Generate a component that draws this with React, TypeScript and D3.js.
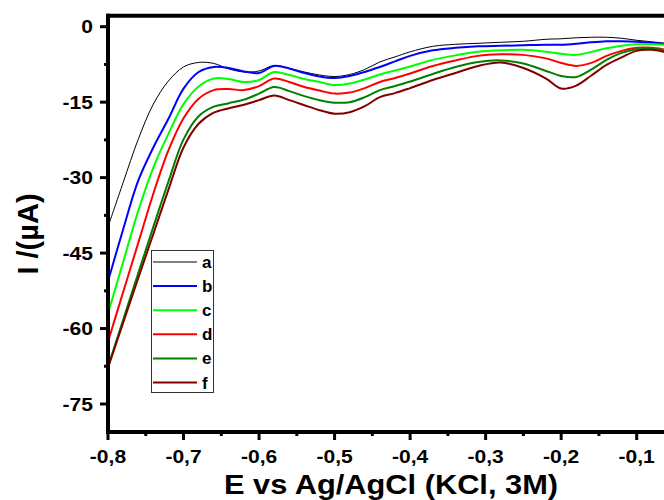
import { useEffect, useRef } from "react";
import * as d3 from "d3";

// potential grid (V) shared by all curves
const potentials = [
  -0.8, -0.78, -0.76, -0.74, -0.72, -0.7, -0.68, -0.66, -0.64, -0.62, -0.6, -0.58,
  -0.56, -0.54, -0.52, -0.5, -0.48, -0.46, -0.44, -0.42, -0.4, -0.37, -0.34, -0.31,
  -0.28, -0.25, -0.22, -0.2, -0.18, -0.16, -0.14, -0.12, -0.1, -0.08, -0.06, -0.05,
];

const curveA = [
  -39.8, -31.0, -22.4, -15.4, -10.8, -8.0, -7.1, -7.3, -8.4, -9.0, -8.8, -7.7,
  -8.3, -9.0, -9.6, -9.9, -9.5, -8.5, -7.0, -6.0, -5.0, -3.9, -3.5, -3.3,
  -3.1, -2.9, -2.5, -2.4, -2.2, -2.1, -2.1, -2.3, -2.7, -3.0, -3.3, -3.4,
];
const curveB = [
  -50.6, -40.3, -30.6, -24.0, -18.3, -12.3, -9.0, -8.0, -8.2, -8.9, -9.2, -7.8,
  -8.3, -9.2, -9.9, -10.2, -9.8, -9.0, -8.0, -6.9, -5.8, -4.7, -4.2, -3.9,
  -3.8, -3.7, -3.6, -3.6, -3.4, -3.1, -2.9, -2.9, -3.0, -3.2, -3.5, -3.6,
];
const curveC = [
  -57.0, -46.8, -36.6, -28.0, -21.3, -15.4, -11.9, -10.3, -10.4, -11.0, -10.6, -9.0,
  -9.6, -10.4, -11.0, -11.6, -11.3, -10.5, -9.5, -8.7, -7.9, -6.6, -5.7, -5.0,
  -4.7, -4.6, -5.0, -5.4, -5.6, -5.0, -4.3, -3.8, -3.5, -3.5, -3.6, -3.7,
];
const curveD = [
  -62.6, -52.8, -43.0, -33.2, -24.6, -18.2, -14.3, -12.6, -12.4, -12.6, -11.8, -10.3,
  -11.0, -12.0, -12.7, -13.3, -13.1, -12.2, -11.0, -10.2, -9.3, -7.8, -6.7, -5.8,
  -5.5, -5.6, -6.3, -7.2, -7.8, -7.2, -5.8, -4.8, -4.2, -4.2, -4.6, -4.8,
];
const curveE = [
  -67.6, -58.3, -49.0, -39.8, -30.8, -22.4, -17.8, -15.9, -15.2, -14.5, -13.3, -12.0,
  -12.8, -13.8, -14.6, -15.1, -15.0, -14.0, -12.6, -11.8, -10.9, -9.4, -8.0, -7.0,
  -6.7, -7.3, -8.8, -9.8, -10.0, -8.5, -6.6, -5.2, -4.5, -4.4, -4.7, -4.8,
];
const curveF = [
  -67.8, -58.9, -50.0, -41.2, -32.4, -24.0, -19.3, -17.1, -16.2, -15.5, -14.6, -13.7,
  -14.6, -15.6, -16.6, -17.3, -17.0, -15.8, -14.0, -13.2, -12.2, -10.6, -9.2, -7.8,
  -7.1, -8.2, -10.3, -12.3, -11.7, -9.7, -7.6, -6.1, -4.8, -4.6, -5.1, -5.2,
];

const labels = ["a", "b", "c", "d", "e", "f"];
const colors = ["#000000", "#0000ff", "#00ff00", "#ff0000", "#008000", "#800000"];
const yTicks = [0, -15, -30, -45, -60, -75];
const xTicks = [-0.8, -0.7, -0.6, -0.5, -0.4, -0.3, -0.2, -0.1];

const FONT = "'Liberation Sans', Arial, sans-serif";

export default function App() {
  const ref = useRef<SVGSVGElement>(null);

  useEffect(() => {
    const svg = d3.select(ref.current);
    svg.selectAll("*").remove();

    const left = 108, top = 15.7, bottom = 432, right = 664;
    const x = d3.scaleLinear().domain([-0.8, -0.1]).range([108, 636.7]);
    const y = d3.scaleLinear().domain([0, -75]).range([26.7, 404]);

    const series = [curveA, curveB, curveC, curveD, curveE, curveF];

    svg.append("defs").append("clipPath").attr("id", "plot")
      .append("rect")
      .attr("x", left).attr("y", top)
      .attr("width", right - left).attr("height", bottom - top);

    const line = d3.line<number>()
      .x((_, i) => x(potentials[i]))
      .y(d => y(d))
      .curve(d3.curveCatmullRom.alpha(0.5));

    const plot = svg.append("g").attr("clip-path", "url(#plot)");
    series.forEach((vals, i) => {
      plot.append("path")
        .attr("d", line(vals))
        .attr("fill", "none")
        .attr("stroke", colors[i])
        .attr("stroke-width", i === 0 ? 1 : 2)
        .attr("stroke-linejoin", "round");
    });

    // axes frame
    const axis = svg.append("g").attr("stroke", "#000").attr("stroke-width", 4);
    axis.append("line").attr("x1", left).attr("x2", left).attr("y1", top - 2).attr("y2", bottom + 2);
    axis.append("line").attr("x1", left - 2).attr("x2", right).attr("y1", bottom).attr("y2", bottom);
    axis.append("line").attr("x1", left - 2).attr("x2", right).attr("y1", top).attr("y2", top);

    // y ticks
    const yMinor = d3.range(0, -81, -7.5);
    svg.append("g").selectAll("line").data(yMinor).join("line")
      .attr("x1", d => (d % 15 === 0 ? left - 8 : left - 4))
      .attr("x2", left)
      .attr("y1", d => y(d)).attr("y2", d => y(d))
      .attr("stroke", "#000").attr("stroke-width", 3);

    svg.append("g").selectAll("g").data(yTicks).join("g")
      .attr("transform", d => `translate(93,${y(d) + 6.5}) scale(1.17,1)`)
      .append("text")
      .attr("text-anchor", "end")
      .attr("font-family", FONT).attr("font-weight", "bold").attr("font-size", 18)
      .text(d => String(d));

    // x ticks
    const xMinor = d3.range(-0.8, -0.04, 0.05);
    svg.append("g").selectAll("line").data(xMinor).join("line")
      .attr("x1", d => x(d)).attr("x2", d => x(d))
      .attr("y1", bottom)
      .attr("y2", (_, i) => (i % 2 === 0 ? bottom + 8 : bottom + 4))
      .attr("stroke", "#000").attr("stroke-width", 3);

    svg.append("g").selectAll("g").data(xTicks).join("g")
      .attr("transform", d => `translate(${x(d)},463) scale(1.17,1)`)
      .append("text")
      .attr("text-anchor", "middle")
      .attr("font-family", FONT).attr("font-weight", "bold").attr("font-size", 18)
      .text(d => d.toFixed(1).replace(".", ","));

    // axis titles
    svg.append("g").attr("transform", "translate(391,494) scale(1.1,1)")
      .append("text")
      .attr("text-anchor", "middle")
      .attr("font-family", FONT).attr("font-weight", "bold").attr("font-size", 28)
      .text("E vs Ag/AgCl (KCl, 3M)");

    svg.append("text")
      .attr("transform", "translate(38,234) rotate(-90)")
      .attr("text-anchor", "middle")
      .attr("font-family", FONT).attr("font-weight", "bold").attr("font-size", 29)
      .text("I /(µA)");

    // legend
    const lg = svg.append("g");
    lg.append("rect")
      .attr("x", 151.5).attr("y", 250.5).attr("width", 62).attr("height", 142)
      .attr("fill", "#fff").attr("stroke", "#333").attr("stroke-width", 1);
    const items = lg.selectAll("g.item").data(labels).join("g")
      .attr("class", "item")
      .attr("transform", (_, i) => `translate(0,${262 + i * 24.1})`);
    items.append("line")
      .attr("x1", 153).attr("x2", 197)
      .attr("stroke", (_, i) => colors[i])
      .attr("stroke-width", (_, i) => (i === 0 ? 1 : 2));
    items.append("text")
      .attr("x", 202).attr("y", 6)
      .attr("font-family", FONT).attr("font-weight", "bold").attr("font-size", 17)
      .text(d => d);
  }, []);

  return (
    <svg
      ref={ref}
      width={664}
      height={500}
      style={{ position: "absolute", left: 0, top: 0, background: "#fff" }}
    />
  );
}
